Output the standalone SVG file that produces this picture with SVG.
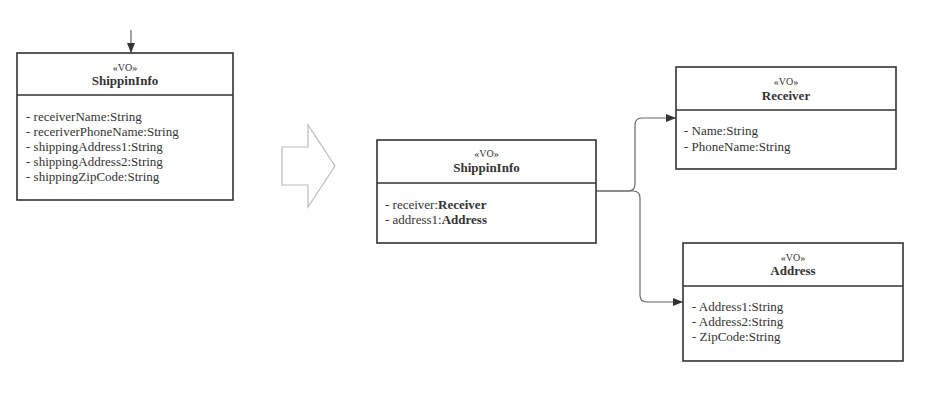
<svg xmlns="http://www.w3.org/2000/svg" width="930" height="407" viewBox="0 0 930 407">
<style>
.box{fill:#fff;stroke:#333;stroke-width:1.6}
.div{stroke:#333;stroke-width:1.6}
.st{font-family:"Liberation Serif",serif;font-size:10px;fill:#333;text-anchor:middle}
.tt{font-family:"Liberation Serif",serif;font-size:13px;font-weight:bold;fill:#333;text-anchor:middle}
.at{font-family:"Liberation Serif",serif;font-size:13px;fill:#333}
.b{font-weight:bold}
.con{fill:none;stroke:#666;stroke-width:1.2}
</style>
<defs>
<marker id="ah" viewBox="0 0 10 10" refX="10" refY="5" markerWidth="10" markerHeight="10" markerUnits="userSpaceOnUse" orient="auto">
<path d="M0,1 L10,5 L0,9 Z" fill="#333"/>
</marker>
</defs>
<rect width="930" height="407" fill="#fff"/>
<g id="connectors">
<path class="con" d="M131,30 V53" marker-end="url(#ah)"/>
<path class="con" d="M596,191 H628 Q635,191 635,184 V125 Q635,118 642,118 H676" marker-end="url(#ah)"/>
<path class="con" d="M596,191 H633 Q640,191 640,198 V295 Q640,302 647,302 H683" marker-end="url(#ah)"/>
</g>
<g id="transform-arrow">
<path d="M282,147 H308 V125 L335,166 L308,207 V185 H282 Z" fill="#fff" stroke="#bbb" stroke-width="1.2"/>
</g>
<g id="node-shippininfo-old">
<rect class="box" x="17" y="53" width="216" height="147"/>
<line class="div" x1="17" y1="95" x2="233" y2="95"/>
<text class="st" x="125" y="71">«VO»</text>
<text class="tt" x="125" y="85">ShippinInfo</text>
<text class="at" x="26" y="121">- receiverName:String</text>
<text class="at" x="26" y="136">- receriverPhoneName:String</text>
<text class="at" x="26" y="151">- shippingAddress1:String</text>
<text class="at" x="26" y="166">- shippingAddress2:String</text>
<text class="at" x="26" y="181">- shippingZipCode:String</text>
</g>
<g id="node-shippininfo-new">
<rect class="box" x="377" y="140" width="219" height="103"/>
<line class="div" x1="377" y1="183" x2="596" y2="183"/>
<text class="st" x="486.5" y="157">«VO»</text>
<text class="tt" x="486.5" y="172">ShippinInfo</text>
<text class="at" x="385" y="209">- receiver:<tspan class="b">Receiver</tspan></text>
<text class="at" x="385" y="224">- address1:<tspan class="b">Address</tspan></text>
</g>
<g id="node-receiver">
<rect class="box" x="676" y="67" width="220" height="102"/>
<line class="div" x1="676" y1="110" x2="896" y2="110"/>
<text class="st" x="786" y="85">«VO»</text>
<text class="tt" x="786" y="100">Receiver</text>
<text class="at" x="684" y="135">- Name:String</text>
<text class="at" x="684" y="151">- PhoneName:String</text>
</g>
<g id="node-address">
<rect class="box" x="683" y="243" width="220" height="118"/>
<line class="div" x1="683" y1="286" x2="903" y2="286"/>
<text class="st" x="793" y="261">«VO»</text>
<text class="tt" x="793" y="275">Address</text>
<text class="at" x="692" y="311">- Address1:String</text>
<text class="at" x="692" y="326">- Address2:String</text>
<text class="at" x="692" y="341">- ZipCode:String</text>
</g>
</svg>
